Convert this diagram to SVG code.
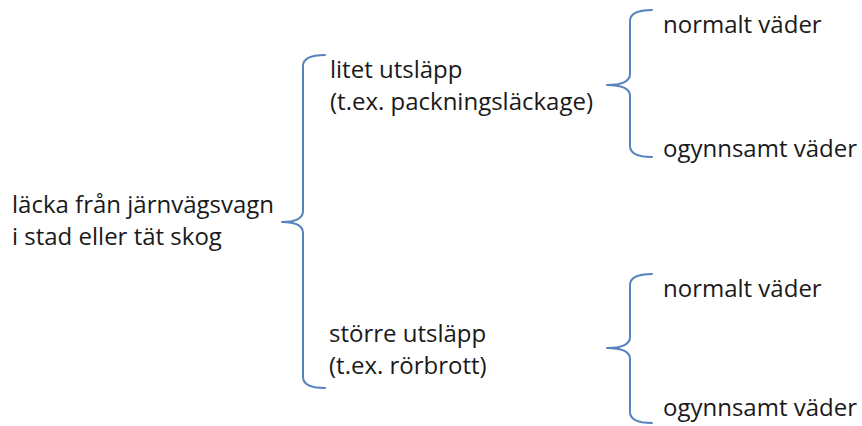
<svg xmlns="http://www.w3.org/2000/svg" width="862" height="426" viewBox="0 0 862 426">
<style>
  text { font-family: "Open Sans", "Noto Sans", "Liberation Sans", sans-serif; font-size: 24px; fill: #1a1a1a; }
  .brace { fill: none; stroke: #5682BE; stroke-width: 2; stroke-linecap: round; stroke-linejoin: round; }
</style>
<rect width="862" height="426" fill="#ffffff"/>
<g id="connectors">
  <path class="brace" d="M325,55 Q303,55 303,66 L303,211 Q303,222 282,222 Q303,222 303,233 L303,377 Q303,388 325,388"/>
  <path class="brace" d="M652,10 Q630,10 630,21 L630,74 Q630,85 607,85 Q630,85 630,96 L630,146 Q630,157 652,157"/>
  <path class="brace" d="M652,274 Q630,274 630,285 L630,337 Q630,348 607,348 Q630,348 630,359 L630,412 Q630,423 652,423"/>
</g>
<g id="root">
  <text x="12" y="213">läcka från järnvägsvagn</text>
  <text x="12" y="245">i stad eller tät skog</text>
</g>
<g id="small-leak">
  <text x="330" y="78">litet utsläpp</text>
  <text x="330" y="110">(t.ex. packningsläckage)</text>
</g>
<g id="large-leak">
  <text x="329" y="342">större utsläpp</text>
  <text x="329" y="374">(t.ex. rörbrott)</text>
</g>
<g id="small-normal">
  <text x="663" y="33">normalt väder</text>
</g>
<g id="small-adverse">
  <text x="663" y="157">ogynnsamt väder</text>
</g>
<g id="large-normal">
  <text x="663" y="297">normalt väder</text>
</g>
<g id="large-adverse">
  <text x="663" y="416">ogynnsamt väder</text>
</g>
</svg>
